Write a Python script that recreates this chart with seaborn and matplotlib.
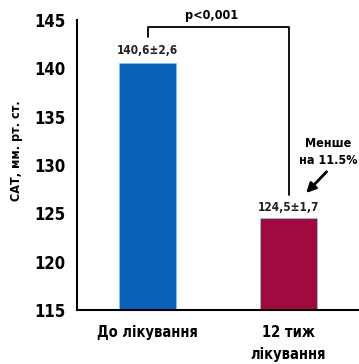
import matplotlib
matplotlib.use("Agg")
import matplotlib.pyplot as plt
import seaborn as sns

# Data
categories = ["До лікування", "12 тиж\nлікування"]
sat_values = [140.6, 124.5]
value_labels = ["140,6±2,6", "124,5±1,7"]
bar_colors = ["#0a62b8", "#a1093f"]
y_ticks = [115, 120, 125, 130, 135, 140, 145]

sns.set_style("white")
plt.rcParams['font.family'] = ['DejaVu Sans']
plt.rcParams['font.stretch'] = 'condensed'
plt.rcParams['font.weight'] = 'bold'
plt.rcParams['text.color'] = 'black'
plt.rcParams['axes.labelcolor'] = 'black'
plt.rcParams['xtick.color'] = 'black'
plt.rcParams['ytick.color'] = 'black'

fig = plt.figure(figsize=(3.59, 3.64), dpi=100)
ax = fig.add_axes([77 / 359, 1 - 310 / 364, 1 - 77 / 359, 290 / 364])

sns.barplot(x=categories, y=sat_values, hue=categories, palette=bar_colors,
            width=0.4, legend=False, ax=ax, saturation=1,
            edgecolor="#7fc8ee", linewidth=0.6)

ax.set_ylim(115, 145)
ax.set_xlim(-0.5, 1.5)
ax.set_yticks(y_ticks)
ax.set_yticklabels([str(t) for t in y_ticks], fontsize=12, fontweight='bold')
ax.tick_params(axis='y', direction='out', length=5, width=1.5, pad=3)
ax.tick_params(axis='x', which='major', length=0, pad=11, labelsize=10.5)
ax.set_xticks([0.5], minor=True)
ax.tick_params(axis='x', which='minor', direction='out', length=5, width=1.5)
for lab in ax.get_xticklabels():
    lab.set_fontweight('bold')
    lab.set_linespacing(1.55)

for side in ["top", "right"]:
    ax.spines[side].set_visible(False)
for side in ["left", "bottom"]:
    ax.spines[side].set_linewidth(1.5)
    ax.spines[side].set_color("black")

ax.set_xlabel("")
ax.set_ylabel("САТ, мм. рт. ст.", fontsize=9, fontweight='bold')
ax.yaxis.set_label_coords(-0.19, 0.55)

# value labels above bars
ax.text(0, 141.8, value_labels[0], ha='center', va='center', fontsize=8.5,
        fontweight='bold', color="#222222")
ax.text(1, 125.6, value_labels[1], ha='center', va='center', fontsize=8.5,
        fontweight='bold', color="#222222")

# significance bracket
ax.plot([0, 0, 1, 1], [143.2, 144.25, 144.25, 126.9], color="black",
        lw=1.3, clip_on=False)
ax.text(0.455, 145.5, "p<0,001", ha='center', va='center', fontsize=9,
        fontweight='bold', clip_on=False)

# reduction note with arrow
ax.annotate("", xy=(1.125, 127.1), xytext=(1.27, 129.3),
            arrowprops=dict(arrowstyle="-|>", color="black", lw=2,
                            mutation_scale=14, shrinkA=0, shrinkB=0))
ax.text(1.28, 131.3, "Менше\nна 11.5%", ha='center', va='center',
        fontsize=9, fontweight='bold', linespacing=1.4)

fig.savefig("out.png", dpi=100)
